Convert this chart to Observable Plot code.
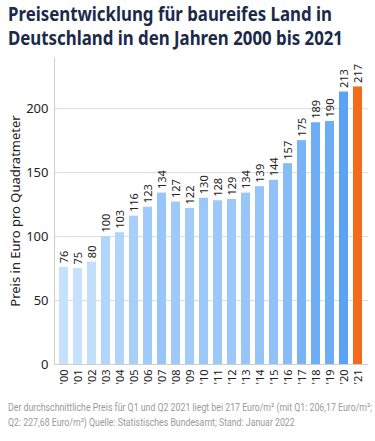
<!DOCTYPE html>
<html><head><meta charset="utf-8">
<script src="https://cdn.jsdelivr.net/npm/d3@7"></script>
<script src="https://cdn.jsdelivr.net/npm/@observablehq/plot@0.6"></script>
<style>
body{margin:0;background:#fff;width:375px;height:441px;overflow:hidden;font-family:"Noto Sans",sans-serif;}
#title{position:absolute;left:8px;top:2px;font-size:19px;font-weight:700;line-height:24px;color:#1b2a48;white-space:nowrap;transform-origin:0 0;}
#chart{position:absolute;left:0;top:52px;}
#caption{position:absolute;left:8px;top:400px;font-family:Roboto,sans-serif;font-size:11px;line-height:15px;color:#9a9a9a;white-space:nowrap;transform-origin:0 0;}
#title span,#caption span{display:inline-block;}
</style></head>
<body>
<div id="title"><span id="t1">Preisentwicklung für baureifes Land in</span><br><span id="t2">Deutschland in den Jahren 2000 bis 2021</span></div>
<div id="chart"></div>
<div id="caption"><span id="c1">Der durchschnittliche Preis für Q1 und Q2 2021 liegt bei 217 Euro/m² (mit Q1: 206,17 Euro/m²;</span><br><span id="c2">Q2: 227,68 Euro/m²) Quelle: Statistisches Bundesamt; Stand: Januar 2022</span></div>
<script>
const years = ["'00","'01","'02","'03","'04","'05","'06","'07","'08","'09","'10","'11","'12","'13","'14","'15","'16","'17","'18","'19","'20","'21"];
const values = [76,75,80,100,103,116,123,134,127,122,130,128,129,134,139,144,157,175,189,190,213,217];
const highlightYear = "'21";
const yTicks = [0,50,100,150,200];

const data = years.map((year, i) => ({year, value: values[i], highlight: year === highlightYear}));
const normal = data.filter(d => !d.highlight);
const hi = data.filter(d => d.highlight);

const chart = Plot.plot({
  width: 375,
  height: 340,
  marginTop: 5,
  marginLeft: 54,
  marginRight: 7,
  marginBottom: 28,
  style: {fontFamily: "'Noto Sans', sans-serif", fontSize: "13px", color: "#222", background: "transparent"},
  x: {domain: years, padding: 0.35, label: null},
  y: {domain: [0, 240], label: null},
  color: {type: "linear", domain: [75, 213], range: ["#c6e1fd", "#5aa3f4"]},
  marks: [
    Plot.ruleY(yTicks.filter(t => t > 0), {stroke: "#dcdcdc", strokeWidth: 1}),
    Plot.frame({anchor: "left", stroke: "#cfcfcf"}),
    Plot.barY(normal, {x: "year", y: "value", fill: "value"}),
    Plot.barY(hi, {x: "year", y: "value", fill: "#f46a1c"}),
    Plot.ruleY([0], {stroke: "#cfcfcf"}),
    Plot.text(data, {x: "year", y: "value", text: d => String(d.value), rotate: -90, textAnchor: "start", lineAnchor: "middle", dy: -4, fontSize: 11, fill: "#222"}),
    Plot.axisY({ticks: yTicks, tickSize: 0, tickPadding: 6, fontSize: 13, label: "Preis in Euro pro Quadratmeter", labelAnchor: "center", labelArrow: "none", labelOffset: 44}),
    Plot.axisX({tickSize: 0, tickPadding: 5, tickRotate: -90, fontSize: 11, label: null})
  ]
});
document.getElementById("chart").appendChild(chart);

function fit(el, ref, target) {
  const w = document.getElementById(ref).getBoundingClientRect().width;
  document.getElementById(el).style.transform = `scaleX(${target / w})`;
}
fit("title", "t2", 335);
fit("caption", "c1", 364);
</script>
</body></html>
